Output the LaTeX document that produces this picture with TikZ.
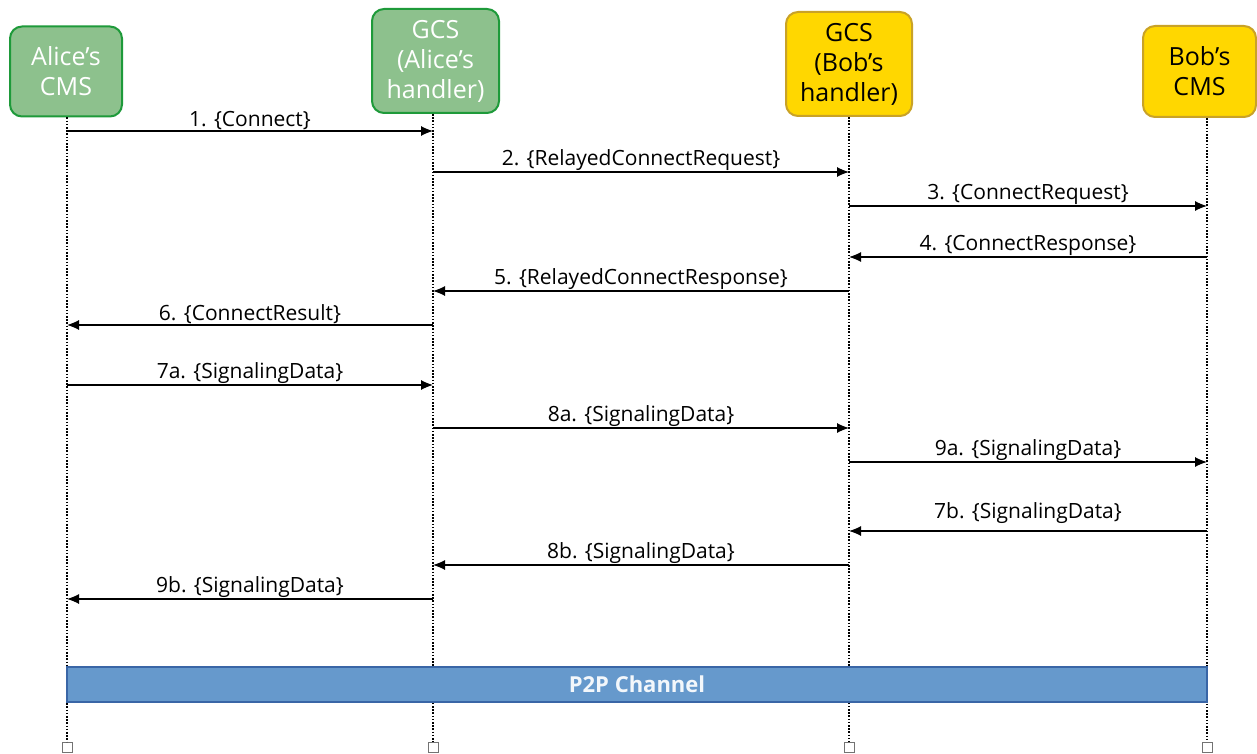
\documentclass[tikz,border=0pt]{standalone}
\usepackage{fontspec}
\setmainfont{Open Sans}
\usetikzlibrary{arrows.meta}

\definecolor{alicefill}{HTML}{8DC18D}
\definecolor{aliceline}{HTML}{1E9A3A}
\definecolor{bobfill}{HTML}{FFD700}
\definecolor{bobline}{HTML}{C9A227}
\definecolor{chanfill}{HTML}{6699CC}
\definecolor{chanline}{HTML}{3A66A6}

\tikzset{
  actor/.style={draw, line width=2pt, rounded corners=12pt, align=center,
    font=\fontsize{25}{30}\selectfont},
  alicebox/.style={actor, fill=alicefill, draw=aliceline, text=white},
  bobbox/.style={actor, fill=bobfill, draw=bobline, text=black},
  msg/.style={->, line width=1.1pt},
  lbl/.style={above=0pt, inner sep=1pt, font=\fontsize{21}{24}\selectfont},
  lifeline/.style={line width=1.2pt, dash pattern=on 1.6pt off 1.6pt},
  endsq/.style={draw=black!55, fill=white, line width=1pt, minimum size=10pt, inner sep=0pt}
}

\begin{document}
\begin{tikzpicture}[x=1pt, y=-1pt, >={Latex[length=12pt,width=10pt]}]

\useasboundingbox (0,0) rectangle (1257,754);

\node (cmsA) at (66, 71.5)    [alicebox, minimum width=112pt, minimum height=90pt]  {Alice’s\\CMS};
\node (gcsA) at (435.5, 61)   [alicebox, minimum width=127pt, minimum height=104pt] {GCS\\(Alice’s\\handler)};
\node (gcsB) at (849, 64)     [bobbox, minimum width=126pt, minimum height=104pt]   {GCS\\(Bob’s\\handler)};
\node (cmsB) at (1199.5, 71.5) [bobbox, minimum width=113pt, minimum height=91pt]   {Bob’s\\CMS};

\node (endA) at (67, 747)   [endsq] {};
\node (endB) at (433, 747)  [endsq] {};
\node (endC) at (849, 747)  [endsq] {};
\node (endD) at (1207, 747) [endsq] {};

\draw[lifeline] (endA |- cmsA.south) -- (endA.north);
\draw[lifeline] (endB |- gcsA.south) -- (endB.north);
\draw[lifeline] (endC |- gcsB.south) -- (endC.north);
\draw[lifeline] (endD |- cmsB.south) -- (endD.north);

% message rows
\coordinate (r1) at (0, 131);
\coordinate (r2) at (0, 172);
\coordinate (r3) at (0, 206);
\coordinate (r4) at (0, 257);
\coordinate (r5) at (0, 291);
\coordinate (r6) at (0, 325);
\coordinate (r7) at (0, 385);
\coordinate (r8) at (0, 428);
\coordinate (r9) at (0, 462);
\coordinate (r10) at (0, 531);
\coordinate (r11) at (0, 565);
\coordinate (r12) at (0, 599);

\path[msg] (endA |- r1) edge node[lbl] {1. \{Connect\}} (endB |- r1);
\path[msg] (endB |- r2) edge node[lbl] {2. \{RelayedConnectRequest\}} (endC |- r2);
\path[msg] (endC |- r3) edge node[lbl] {3. \{ConnectRequest\}} (endD |- r3);
\path[msg] (endD |- r4) edge node[lbl] {4. \{ConnectResponse\}} (endC |- r4);
\path[msg] (endC |- r5) edge node[lbl] {5. \{RelayedConnectResponse\}} (endB |- r5);
\path[msg] (endB |- r6) edge node[lbl] {6. \{ConnectResult\}} (endA |- r6);

\path[msg] (endA |- r7) edge node[lbl] {7a. \{SignalingData\}} (endB |- r7);
\path[msg] (endB |- r8) edge node[lbl] {8a. \{SignalingData\}} (endC |- r8);
\path[msg] (endC |- r9) edge node[lbl] {9a. \{SignalingData\}} (endD |- r9);

\path[msg] (endD |- r10) edge node[lbl, above=6pt] {7b. \{SignalingData\}} (endC |- r10);
\path[msg] (endC |- r11) edge node[lbl] {8b. \{SignalingData\}} (endB |- r11);
\path[msg] (endB |- r12) edge node[lbl] {9b. \{SignalingData\}} (endA |- r12);

% channel bar
\node (chan) at (637, 684.5) [draw=chanline, fill=chanfill, line width=2pt,
  minimum width=1140pt, minimum height=35pt, inner sep=0pt,
  text=white!92!chanfill, font=\fontsize{22}{26}\selectfont\bfseries] {P2P Channel};

\end{tikzpicture}
\end{document}
